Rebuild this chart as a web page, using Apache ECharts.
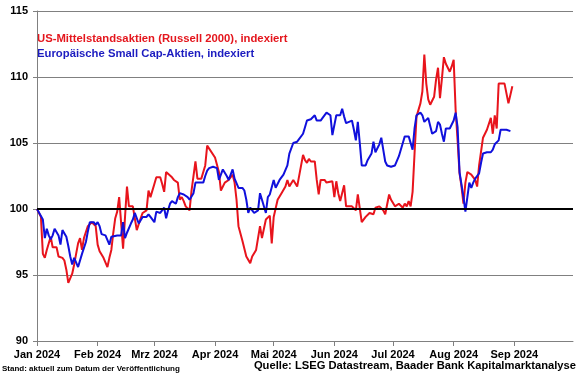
<!DOCTYPE html>
<html>
<head>
<meta charset="utf-8">
<script src="https://cdn.jsdelivr.net/npm/echarts@6/dist/echarts.min.js"></script>
<style>
  html, body { margin: 0; padding: 0; background: #fff; }
  #chart { width: 580px; height: 375px; }
</style>
</head>
<body>
<div id="chart"></div>
<script>
var monthLabels = ['Jan 2024', 'Feb 2024', 'Mrz 2024', 'Apr 2024', 'Mai 2024', 'Jun 2024', 'Jul 2024', 'Aug 2024', 'Sep 2024'];

var usDates = [
  '2024-01-01','2024-01-03','2024-01-04','2024-01-05','2024-01-06','2024-01-08','2024-01-09','2024-01-11','2024-01-12','2024-01-14',
  '2024-01-15','2024-01-16','2024-01-17','2024-01-19','2024-01-20','2024-01-22','2024-01-23','2024-01-24','2024-01-25','2024-01-27',
  '2024-01-29','2024-01-31','2024-02-01','2024-02-02','2024-02-04','2024-02-06','2024-02-07','2024-02-08','2024-02-09','2024-02-10',
  '2024-02-11','2024-02-12','2024-02-14','2024-02-15','2024-02-16','2024-02-17','2024-02-19','2024-02-20','2024-02-21','2024-02-23',
  '2024-02-24','2024-02-26','2024-02-27','2024-02-28','2024-03-01','2024-03-02','2024-03-04','2024-03-05','2024-03-06','2024-03-07',
  '2024-03-08','2024-03-10','2024-03-11','2024-03-13','2024-03-14','2024-03-15','2024-03-16','2024-03-17','2024-03-19','2024-03-20',
  '2024-03-22','2024-03-23','2024-03-25','2024-03-26','2024-03-27','2024-03-28','2024-03-29','2024-04-01','2024-04-03','2024-04-04',
  '2024-04-06','2024-04-08','2024-04-10','2024-04-11','2024-04-12','2024-04-13','2024-04-15','2024-04-17','2024-04-19','2024-04-20',
  '2024-04-22','2024-04-24','2024-04-25','2024-04-27','2024-04-29','2024-04-30','2024-05-01','2024-05-03','2024-05-05','2024-05-07',
  '2024-05-08','2024-05-09','2024-05-11','2024-05-13','2024-05-14','2024-05-16','2024-05-17','2024-05-18','2024-05-19','2024-05-20',
  '2024-05-22','2024-05-23','2024-05-24','2024-05-25','2024-05-27','2024-05-28','2024-05-31','2024-06-01','2024-06-02','2024-06-03',
  '2024-06-04','2024-06-06','2024-06-07','2024-06-10','2024-06-11','2024-06-12','2024-06-13','2024-06-15','2024-06-17','2024-06-19',
  '2024-06-21','2024-06-22','2024-06-24','2024-06-26','2024-06-27','2024-06-29','2024-06-30','2024-07-02','2024-07-04','2024-07-06',
  '2024-07-07','2024-07-08','2024-07-09','2024-07-10','2024-07-11','2024-07-12','2024-07-13','2024-07-15','2024-07-16','2024-07-17',
  '2024-07-18','2024-07-19','2024-07-20','2024-07-22','2024-07-23','2024-07-24','2024-07-25','2024-07-26','2024-07-27','2024-07-28',
  '2024-07-30','2024-07-31','2024-08-01','2024-08-02','2024-08-03','2024-08-04','2024-08-05','2024-08-06','2024-08-07','2024-08-08',
  '2024-08-10','2024-08-12','2024-08-13','2024-08-14','2024-08-15','2024-08-16','2024-08-18','2024-08-20','2024-08-21','2024-08-22',
  '2024-08-23','2024-08-24','2024-08-27','2024-08-29','2024-08-31'
];
var usValues = [
  100.0, 99.4, 96.6, 96.3, 96.9, 97.9, 97.1, 97.1, 96.4, 96.3,
  96.1, 95.4, 94.4, 95.1, 95.8, 97.4, 97.8, 96.9, 97.8, 98.7,
  99.0, 98.7, 97.3, 96.8, 96.3, 95.6, 96.3, 96.9, 98.2, 99.3,
  99.8, 100.9, 97.0, 99.4, 101.7, 100.2, 100.2, 99.3, 98.4, 99.3,
  99.7, 99.9, 101.4, 100.9, 101.9, 102.4, 102.4, 101.9, 101.3, 102.8,
  102.7, 102.4, 102.2, 102.0, 100.7, 100.9, 100.6, 100.2, 99.9, 101.4,
  103.6, 102.3, 102.3, 102.2, 103.3, 104.8, 104.8, 103.9, 102.8, 101.4,
  102.0, 102.2, 102.6, 102.0, 100.7, 98.7, 97.6, 96.4, 95.9, 96.4,
  96.9, 98.7, 97.8, 99.2, 99.5, 97.4, 99.4, 100.7, 101.2, 101.7,
  102.2, 101.7, 102.2, 101.7, 101.8, 104.1, 103.7, 103.5, 103.8, 103.6,
  103.6, 102.2, 101.1, 102.2, 102.2, 102.0, 102.1, 100.9, 102.1, 101.2,
  100.6, 101.8, 100.2, 100.2, 100.2, 99.9, 101.1, 99.0, 99.4, 99.7,
  99.6, 100.1, 100.2, 99.9, 99.6, 101.1, 100.7, 100.2, 100.4, 100.1,
  100.4, 100.2, 100.6, 100.2, 101.3, 104.2, 107.0, 108.0, 108.9, 111.7,
  109.5, 108.3, 107.9, 108.5, 109.8, 110.7, 108.4, 109.9, 111.5, 111.0,
  110.4, 110.8, 111.3, 107.5, 105.2, 102.7, 101.7, 100.4, 102.0, 102.8,
  102.6, 102.2, 101.7, 103.3, 103.2, 105.4, 106.0, 106.9, 105.7, 107.1,
  106.1, 109.5, 109.5, 108.0, 109.3
];

var euDates = [
  '2024-01-01','2024-01-04','2024-01-05','2024-01-06','2024-01-07','2024-01-08','2024-01-09','2024-01-10','2024-01-12','2024-01-13',
  '2024-01-14','2024-01-15','2024-01-16','2024-01-17','2024-01-18','2024-01-19','2024-01-20','2024-01-22','2024-01-23','2024-01-24',
  '2024-01-26','2024-01-27','2024-01-28','2024-01-30','2024-01-31','2024-02-01','2024-02-02','2024-02-03','2024-02-05','2024-02-06',
  '2024-02-07','2024-02-08','2024-02-09','2024-02-11','2024-02-13','2024-02-14','2024-02-15','2024-02-16','2024-02-18','2024-02-19',
  '2024-02-20','2024-02-22','2024-02-23','2024-02-24','2024-02-26','2024-02-27','2024-02-28','2024-03-01','2024-03-02','2024-03-03',
  '2024-03-04','2024-03-06','2024-03-07','2024-03-08','2024-03-09','2024-03-10','2024-03-12','2024-03-13','2024-03-14','2024-03-15',
  '2024-03-16','2024-03-18','2024-03-19','2024-03-21','2024-03-22','2024-03-24','2024-03-26','2024-03-27','2024-03-28','2024-03-29',
  '2024-03-31','2024-04-02','2024-04-03','2024-04-04','2024-04-05','2024-04-07','2024-04-08','2024-04-09','2024-04-10','2024-04-11',
  '2024-04-12','2024-04-13','2024-04-15','2024-04-16','2024-04-17','2024-04-18','2024-04-19','2024-04-20','2024-04-21','2024-04-22',
  '2024-04-23','2024-04-24','2024-04-25','2024-04-27','2024-04-28','2024-04-29','2024-04-30','2024-05-01','2024-05-02','2024-05-03',
  '2024-05-04','2024-05-06','2024-05-07','2024-05-08','2024-05-09','2024-05-10','2024-05-11','2024-05-13','2024-05-14','2024-05-16',
  '2024-05-17','2024-05-18','2024-05-19','2024-05-20','2024-05-22','2024-05-23','2024-05-25','2024-05-26','2024-05-27','2024-05-28',
  '2024-05-30','2024-05-31','2024-06-02','2024-06-03','2024-06-04','2024-06-05','2024-06-06','2024-06-07','2024-06-08','2024-06-10',
  '2024-06-11','2024-06-12','2024-06-13','2024-06-14','2024-06-15','2024-06-17','2024-06-18','2024-06-20','2024-06-21','2024-06-22',
  '2024-06-24','2024-06-25','2024-06-26','2024-06-27','2024-06-28','2024-06-30','2024-07-01','2024-07-02','2024-07-03','2024-07-04',
  '2024-07-06','2024-07-07','2024-07-08','2024-07-09','2024-07-11','2024-07-12','2024-07-13','2024-07-15','2024-07-16','2024-07-17',
  '2024-07-18','2024-07-19','2024-07-20','2024-07-21','2024-07-22','2024-07-23','2024-07-24','2024-07-25','2024-07-26','2024-07-27',
  '2024-07-28','2024-07-30','2024-07-31','2024-08-01','2024-08-02','2024-08-03','2024-08-04','2024-08-05','2024-08-06','2024-08-07',
  '2024-08-08','2024-08-09','2024-08-10','2024-08-11','2024-08-12','2024-08-13','2024-08-14','2024-08-15','2024-08-16','2024-08-18',
  '2024-08-20','2024-08-21','2024-08-22','2024-08-23','2024-08-24','2024-08-25','2024-08-26','2024-08-28','2024-08-30'
];
var euValues = [
  100.0, 99.2, 97.8, 98.5, 98.0, 97.7, 98.0, 98.5, 98.0, 97.3,
  98.4, 98.4, 97.9, 97.2, 96.4, 95.8, 96.3, 95.6, 95.7, 96.6,
  97.5, 98.3, 99.0, 99.0, 98.8, 99.0, 98.7, 98.1, 98.0, 97.9,
  97.3, 97.9, 98.0, 98.0, 98.0, 99.0, 97.8, 98.2, 98.9, 99.2,
  99.7, 98.9, 98.8, 99.4, 99.4, 99.6, 99.4, 99.0, 99.8, 99.8,
  99.7, 100.1, 99.3, 99.9, 100.4, 100.6, 100.4, 100.9, 101.2, 101.1,
  101.1, 100.9, 100.7, 101.2, 102.0, 102.0, 102.0, 102.5, 102.9, 103.1,
  103.2, 103.1, 102.2, 102.3, 103.0, 102.5, 102.2, 102.3, 103.0, 102.3,
  102.2, 101.6, 101.6, 101.4, 100.7, 99.7, 100.1, 99.9, 99.7, 99.7,
  99.9, 101.2, 100.7, 99.7, 100.9, 101.1, 101.1, 102.2, 101.6, 101.7,
  102.2, 102.6, 102.5, 103.3, 104.2, 104.3, 105.0, 105.1, 105.1, 105.7,
  106.2, 106.7, 106.8, 106.8, 107.1, 106.7, 106.7, 106.9, 106.9, 107.3,
  107.1, 105.6, 107.1, 107.0, 107.1, 107.6, 107.0, 106.5, 106.4, 106.7,
  106.0, 105.2, 106.6, 105.0, 103.3, 103.3, 103.7, 104.2, 105.1, 104.3,
  104.9, 105.4, 104.5, 103.6, 103.3, 103.2, 103.2, 103.3, 103.2, 104.0,
  105.0, 105.5, 105.5, 105.5, 104.5, 106.1, 107.1, 107.3, 107.1, 106.6,
  106.7, 106.9, 107.0, 105.7, 105.7, 105.9, 106.6, 106.4, 105.7, 105.1,
  106.1, 106.1, 106.1, 106.7, 107.3, 106.2, 102.8, 102.7, 100.9, 99.8,
  100.9, 102.0, 101.6, 102.0, 102.3, 102.4, 102.7, 103.5, 104.2, 104.3,
  104.3, 104.5, 104.9, 105.0, 105.2, 106.0, 106.0, 106.0, 105.9
];

var usName = 'US-Mittelstandsaktien (Russell 2000), indexiert';
var euName = 'Europäische Small Cap-Aktien, indexiert';

function pairs(dates, values) {
  var out = [];
  for (var i = 0; i < dates.length; i++) {
    out.push([dates[i], values[i]]);
  }
  return out;
}

var chartDom = document.getElementById('chart');
var chart = echarts.init(chartDom, null, { renderer: 'canvas' });
var font = '"Liberation Sans", Arial, sans-serif';
var day = 24 * 3600 * 1000;

var option = {
  animation: false,
  backgroundColor: '#ffffff',
  grid: { left: 37, right: 7, top: 11, bottom: 34 },
  xAxis: {
    type: 'time',
    min: '2024-01-01',
    max: '2024-10-01',
    splitNumber: 9,
    minInterval: 28 * day,
    maxInterval: 31 * day,
    axisLine: { show: true, lineStyle: { color: '#808080', width: 1 } },
    axisTick: { show: true, length: 5, lineStyle: { color: '#808080' } },
    splitLine: { show: false },
    axisLabel: {
      margin: 8,
      color: '#000',
      fontFamily: font,
      fontWeight: 'bold',
      fontSize: 11,
      hideOverlap: false,
      showMinLabel: true,
      alignMinLabel: 'center',
      formatter: function (value) {
        var m = new Date(value).getMonth();
        return m < monthLabels.length ? monthLabels[m] : '';
      }
    }
  },
  yAxis: {
    type: 'value',
    min: 90,
    max: 115,
    interval: 5,
    axisLine: { show: true, lineStyle: { color: '#808080', width: 1 } },
    axisTick: { show: true, length: 4, lineStyle: { color: '#808080' } },
    splitLine: { show: true, lineStyle: { color: '#808080', width: 1 } },
    axisLabel: {
      margin: 9,
      color: '#000',
      fontFamily: font,
      fontWeight: 'bold',
      fontSize: 11
    }
  },
  graphic: [
    {
      type: 'text', left: 37, top: 33,
      style: { text: usName, fill: '#e4161d', font: 'bold 11.3px ' + font }
    },
    {
      type: 'text', left: 37, top: 48.5,
      style: { text: euName, fill: '#1c1cc0', font: 'bold 11.3px ' + font }
    },
    {
      type: 'text', left: 2, top: 364.5,
      style: { text: 'Stand: aktuell zum Datum der Veröffentlichung', fill: '#000', font: 'bold 8px ' + font }
    },
    {
      type: 'text', right: 4, top: 360.5,
      style: { text: 'Quelle: LSEG Datastream, Baader Bank Kapitalmarktanalyse', fill: '#000', font: 'bold 11.2px ' + font }
    }
  ],
  series: [
    {
      name: usName,
      type: 'line',
      data: pairs(usDates, usValues),
      showSymbol: false,
      symbol: 'none',
      z: 2,
      lineStyle: { color: '#e8141c', width: 2 },
      itemStyle: { color: '#e8141c' },
      markLine: {
        silent: true,
        symbol: 'none',
        label: { show: false },
        lineStyle: { color: '#000', width: 2, type: 'solid' },
        data: [{ yAxis: 100 }]
      }
    },
    {
      name: euName,
      type: 'line',
      data: pairs(euDates, euValues),
      showSymbol: false,
      symbol: 'none',
      z: 3,
      lineStyle: { color: '#1010dc', width: 2 },
      itemStyle: { color: '#1010dc' }
    }
  ]
};

chart.setOption(option);
</script>
</body>
</html>
